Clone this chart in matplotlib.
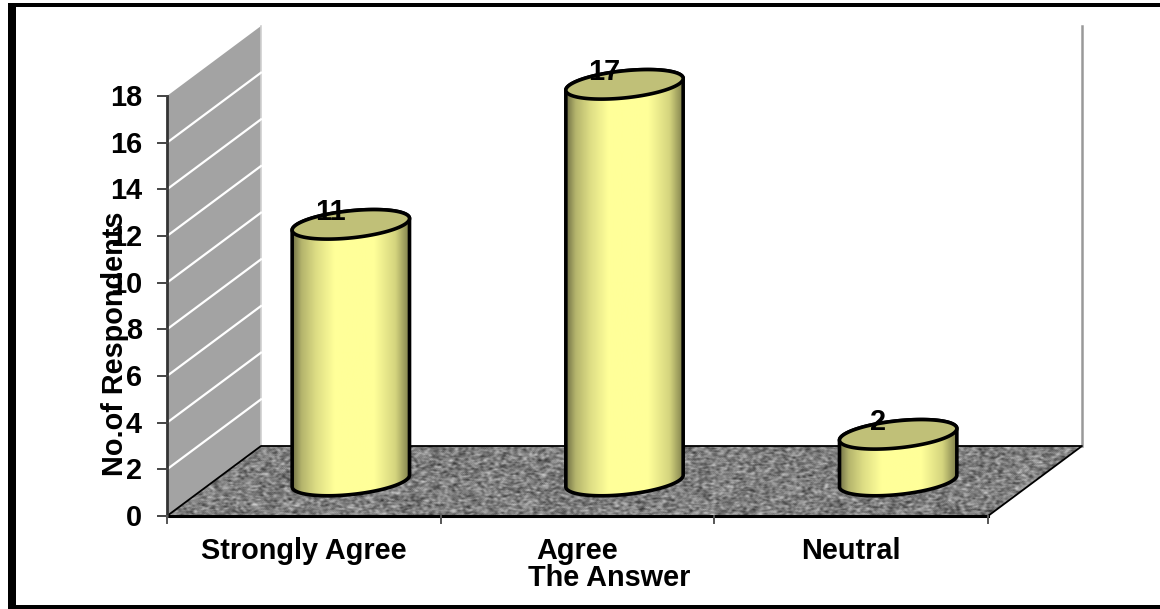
import numpy as np
from matplotlib import pyplot as plt
from matplotlib.patches import Polygon, Rectangle
from matplotlib.colors import LinearSegmentedColormap

plt.rcParams['font.family'] = ['Liberation Sans', 'DejaVu Sans']
plt.rcParams['font.weight'] = 'bold'

categories = ['Strongly Agree', 'Agree', 'Neutral']
values = [11, 17, 2]
y_ticks = [0, 2, 4, 6, 8, 10, 12, 14, 16, 18]

W, H = 1160, 609
# front plane of the chart, pixels
left, right, bottom, top = 167, 988, 516, 96
depth_x, depth_y = 94, 70

fig = plt.figure(figsize=(W / 100, H / 100), dpi=100)
ax = fig.add_axes([left / W, 1 - bottom / H, (right - left) / W, (bottom - top) / H])
ax.set_xlim(0, len(categories))
ax.set_ylim(0, 18)
ax.axis('off')

sx = (right - left) / len(categories)
sy = (bottom - top) / 18
dx = depth_x / sx
dy = depth_y / sy
ymax = y_ticks[-1]
fs = 20.8

# outer frame: bars on the top, left and bottom
for x0, y0, x1, y1 in [(8, 3, 1160, 7), (8, 3, 16, 606), (8, 605, 1160, 609)]:
    fig.add_artist(Rectangle((x0 / W, 1 - y1 / H), (x1 - x0) / W, (y1 - y0) / H,
                             transform=fig.transFigure, fc='black', ec='none'))

# side wall
ax.add_patch(Polygon([(0, 0), (dx, dy), (dx, ymax + dy), (0, ymax)], fc='#a3a3a3', ec='none',
                     clip_on=False, zorder=1))
ax.plot([dx, dx], [dy, ymax + dy], color='#d0d0d0', lw=1.2, clip_on=False, zorder=1.2)
for v in y_ticks[1:-1]:
    ax.plot([0, dx], [v, v + dy], color='white', lw=1.6, clip_on=False, zorder=1.5)
ax.plot([0, 0], [0, ymax], color='#333333', lw=2, clip_on=False, zorder=4)

# back wall edge
ax.plot([3 + dx, 3 + dx], [dy, ymax + dy], color='#999999', lw=1.8, clip_on=False, zorder=1)

# floor with speckled texture
rs = np.random.RandomState(4)
noise = rs.rand(70, 915)
for _ in range(3):
    noise = (noise + np.roll(noise, 1, 1) + np.roll(noise, -1, 1) + np.roll(noise, 1, 0)) / 4
floor = ax.imshow(noise, cmap='gray', vmin=0.5 - 0.52, vmax=0.5 + 0.52, aspect='auto',
                  interpolation='bilinear', extent=(0, 3 + dx, 0, dy), zorder=1.8)
floor.set_clip_path(Polygon([(0, 0), (3, 0), (3 + dx, dy), (dx, dy)], transform=ax.transData))
floor.set_clip_box(fig.bbox)
ax.plot([0, 3, 3 + dx, dx, 0], [0, 0, dy, dy, 0], color='black', lw=1.3, clip_on=False, zorder=2)
ax.plot([0, 3], [0, 0], color='black', lw=2.2, clip_on=False, zorder=2)

# ticks
for v in y_ticks:
    ax.plot([-9 / sx, 0], [v, v], color='#444444', lw=1.4, clip_on=False, zorder=4)
    ax.text(-25 / sx, v - 2 / sy, str(v), ha='right', va='center', fontsize=fs, clip_on=False, zorder=5)
for i in range(len(categories) + 1):
    ax.plot([i, i], [0, -7 / sy], color='#555555', lw=1.4, clip_on=False, zorder=4)
for i, name in enumerate(categories):
    ax.text(i + 0.5, -35 / sy, name, ha='center', va='center', fontsize=fs, clip_on=False, zorder=5)

ax.text(1.5 + 32 / sx, -62 / sy, 'The Answer', ha='center', va='center', fontsize=fs,
        clip_on=False, zorder=5)
ax.text(-52 / sx, 172 / sy, 'No.of Respondents', rotation=90, ha='center', va='center',
        fontsize=fs, clip_on=False, zorder=6)

# cylinders
cyl = LinearSegmentedColormap.from_list('cyl', [(0, '#6f6f45'), (0.08, '#b4b46c'), (0.2, '#dcdc84'),
                                                (0.36, '#ffff99'), (0.7, '#ffff99'), (0.88, '#d4d47e'),
                                                (1, '#7d7d4a')])
a, b, tilt = 59, 13.5, np.radians(6)
t = np.linspace(0, 2 * np.pi, 181)


def ellipse(cx, cy, tt):
    px = a * np.cos(tt) * np.cos(tilt) - b * np.sin(tt) * np.sin(tilt)
    py = a * np.cos(tt) * np.sin(tilt) + b * np.sin(tt) * np.cos(tilt)
    return cx + px / sx, cy + py / sy


base = 35 / sy
for i, v in enumerate(values):
    cx = i + 0.5 + 47 / sx
    cy_top = base + v
    # lower half of the base, then upper half of the top
    bx, by = ellipse(cx, base, np.linspace(np.pi, 2 * np.pi, 91))
    tx, ty = ellipse(cx, cy_top, np.linspace(0, np.pi, 91))
    outline = np.r_[np.c_[bx, by], np.c_[tx, ty]]
    grad = ax.imshow(np.linspace(0, 1, 256)[None, :], cmap=cyl, aspect='auto', vmin=0, vmax=1,
                     extent=(cx - a / sx, cx + a / sx, base - 16 / sy, cy_top + 16 / sy), zorder=3)
    grad.set_clip_path(Polygon(outline, transform=ax.transData))
    grad.set_clip_box(fig.bbox)
    ax.add_patch(Polygon(outline, fc='none', ec='black', lw=2.6, clip_on=False, zorder=3.2))
    ex, ey = ellipse(cx, cy_top, t)
    ax.add_patch(Polygon(np.c_[ex, ey], fc='#c0c078', ec='black', lw=2.6, clip_on=False, zorder=3.4))
    ax.text(cx - 20 / sx, cy_top + 12 / sy, str(v), ha='center', va='center', fontsize=fs,
            clip_on=False, zorder=6)

ax.set_xlim(0, len(categories))
ax.set_ylim(0, 18)
fig.savefig('out.png', dpi=100)
